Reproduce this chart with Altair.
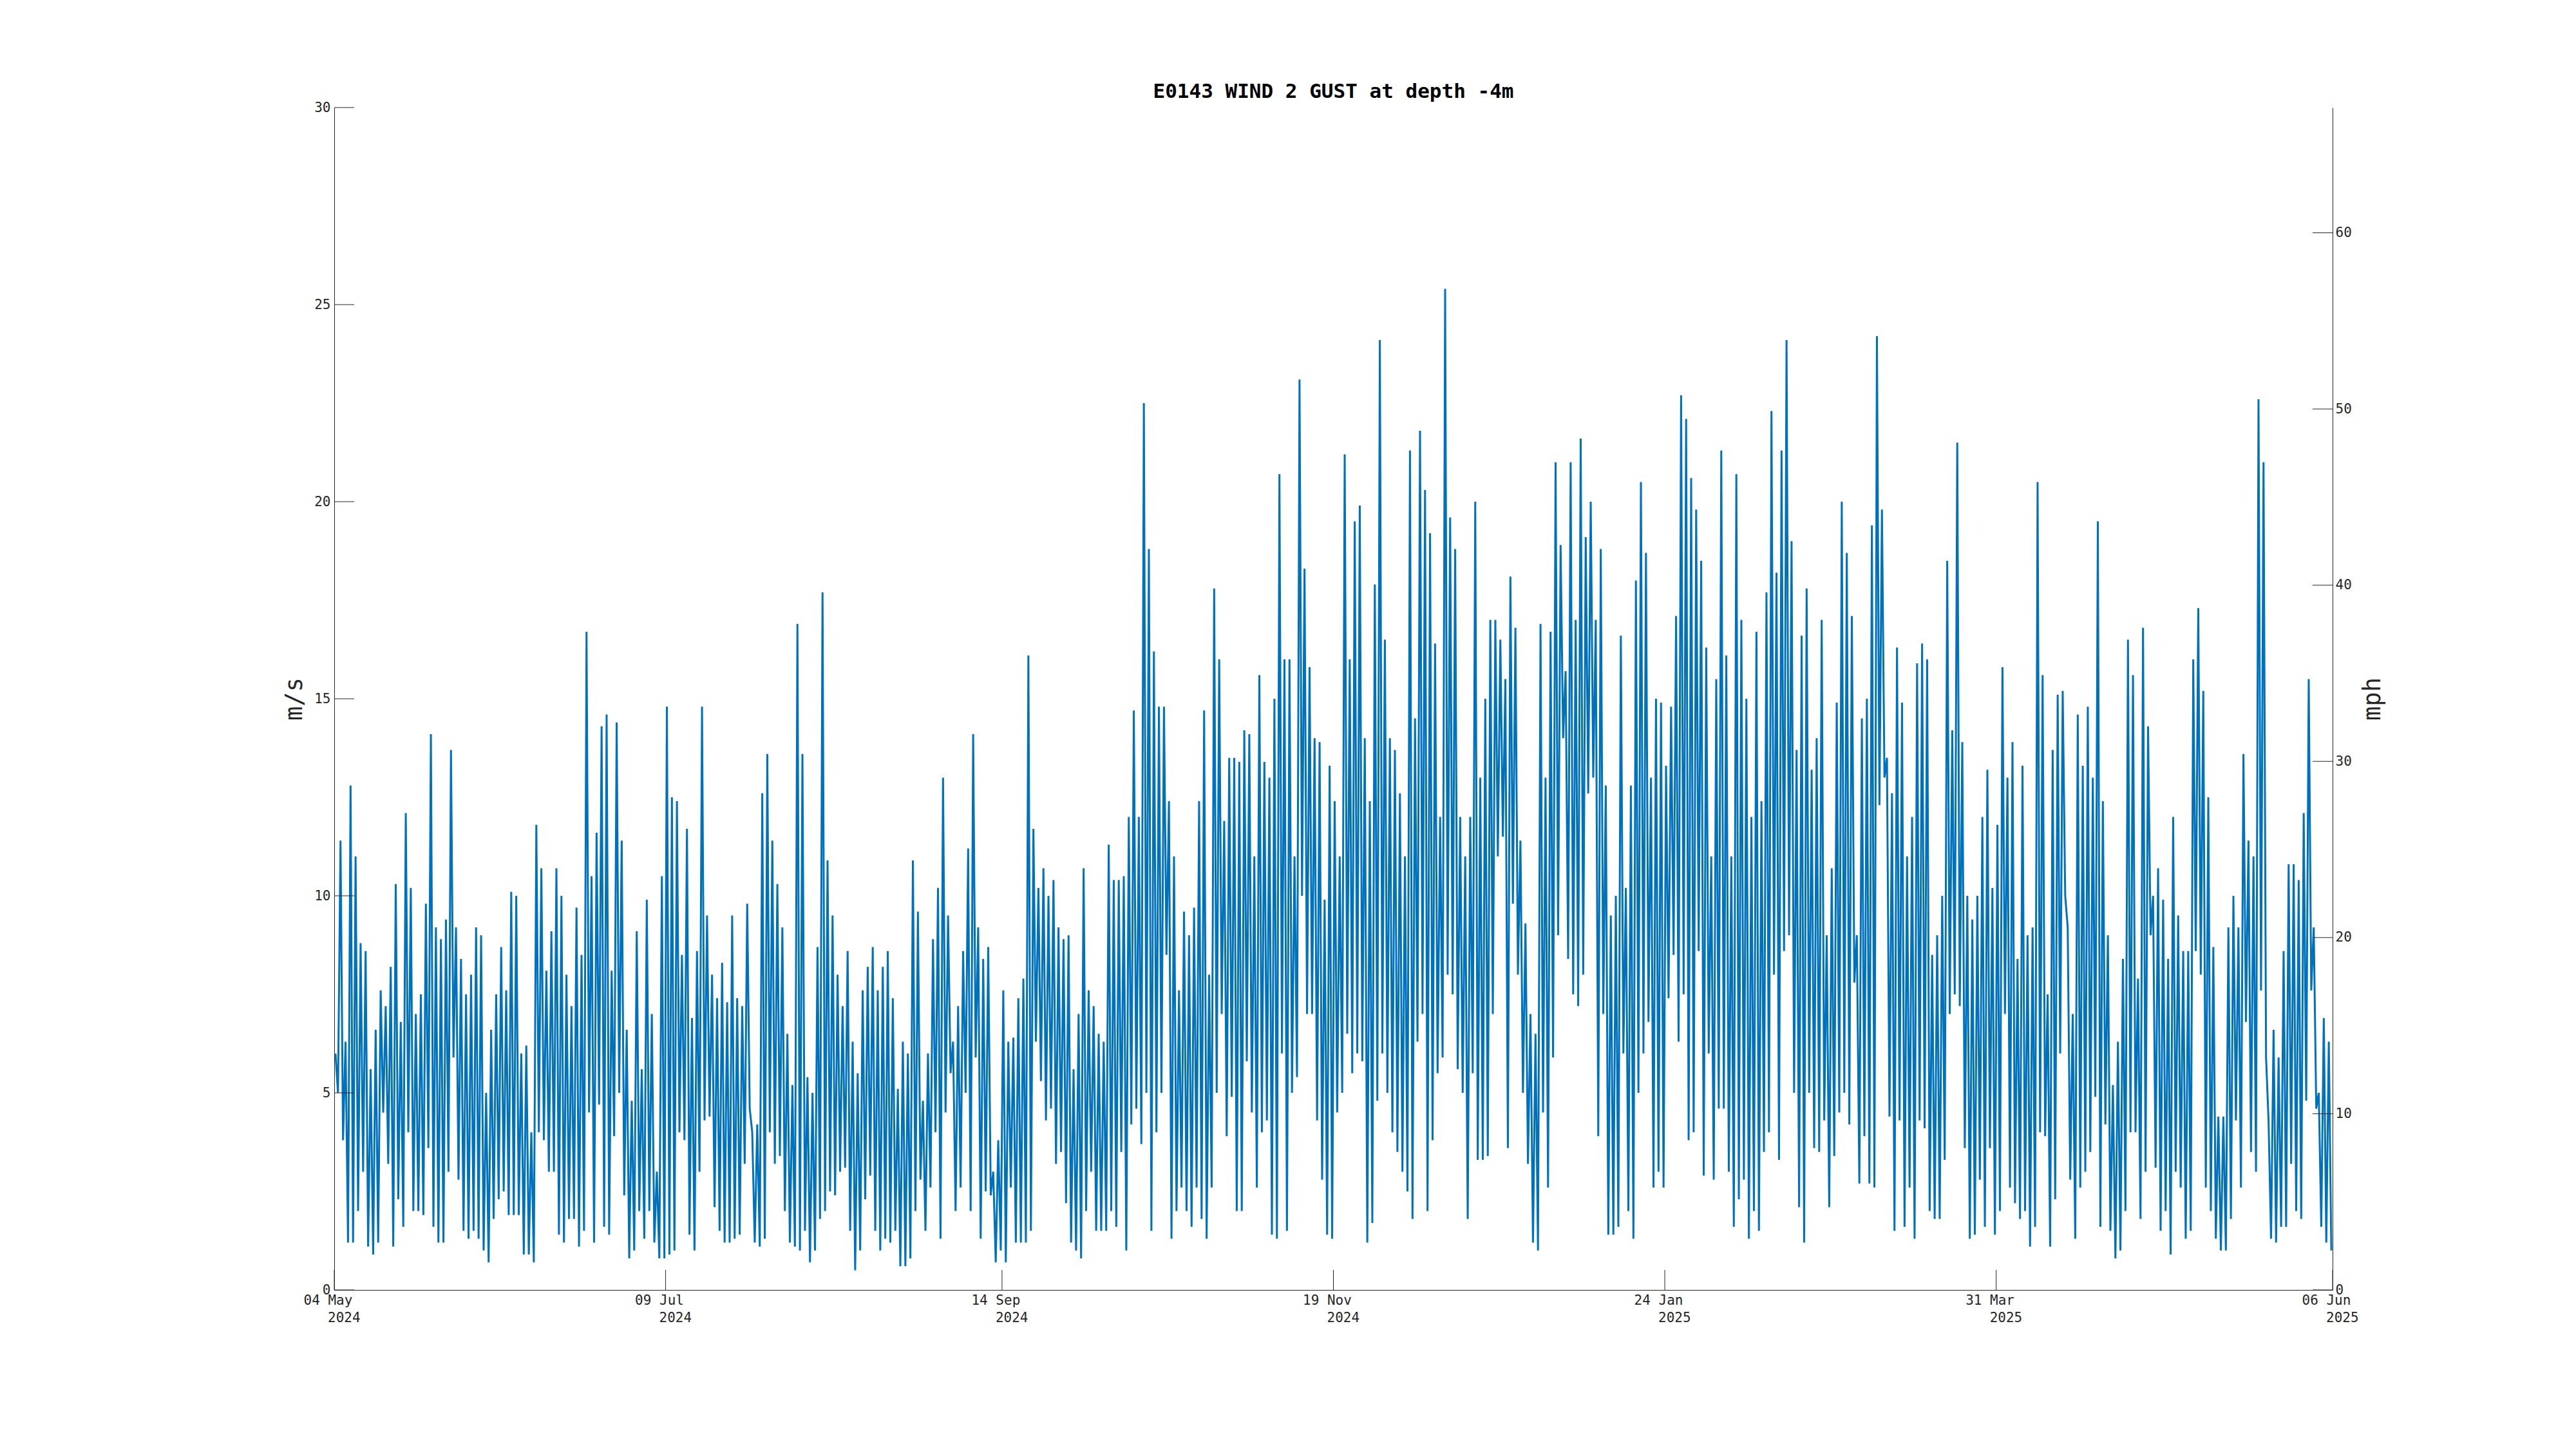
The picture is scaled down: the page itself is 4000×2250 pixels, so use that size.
import altair as alt
import pandas as pd

TITLE = "E0143 WIND 2 GUST at depth -4m"
START = "2024-05-04"

# Daily high / low gust values (m/s), period by period
high_may_jul = [6, 11.4, 6.3, 12.8, 11, 8.8, 8.6, 5.6, 6.6, 7.6, 7.2, 8.2, 10.3, 6.8, 12.1, 10.2, 7, 7.5, 9.8, 14.1,
                9.2, 8.9, 9.4, 13.7, 9.2, 8.4, 7.5, 8, 9.2, 9, 5, 6.6, 7.5, 8.7, 7.6, 10.1, 10, 6, 6.2, 4,
                11.8, 10.7, 8.1, 9.1, 10.7, 10, 8, 7.2, 9.7, 8.5, 16.7, 10.5, 11.6, 14.3, 14.6, 8.1, 14.4, 11.4, 6.6, 4.8,
                9.1, 5.6, 9.9, 7, 3, 10.5]
low_may_jul = [5, 3.8, 1.2, 1.2, 2, 3, 1.1, 0.9, 1.2, 4.5, 3.2, 1.1, 2.3, 1.6, 4, 2, 2, 1.9, 3.6, 1.6,
               1.2, 1.2, 3, 5.9, 2.8, 1.5, 1.3, 1.5, 1.3, 1, 0.7, 1.8, 2.3, 2.5, 1.9, 1.9, 1.9, 0.9, 0.9, 0.7,
               4, 3.8, 3, 3, 1.4, 1.2, 1.8, 1.8, 1.1, 1.5, 4.5, 1.2, 4.7, 1.6, 1.4, 3.9, 5, 2.4, 0.8, 1,
               2, 1.3, 2, 1.2, 0.8, 0.8]

high_jul_sep = [14.8, 12.5, 12.4, 8.5, 11.7, 6.9, 8.6, 14.8, 9.5, 8, 7.4, 8.3, 7.3, 9.5, 7.4, 7.2, 9.8, 4, 4.2, 12.6,
                13.6, 11.4, 10.3, 9.2, 6.5, 5.2, 16.9, 13.6, 5.4, 5, 8.7, 17.7, 10.9, 9.5, 8, 7.2, 8.6, 6.3, 5.5, 7.6,
                8.2, 8.7, 7.6, 8.2, 8.6, 7.4, 5.1, 6.3, 6, 10.9, 9.6, 4.8, 6, 8.9, 10.2, 13, 9.5, 6.3, 7.2, 8.6,
                11.2, 14.1, 9.2, 8.4, 8.7, 3]
low_jul_sep = [0.9, 1, 4, 3.8, 1.4, 1, 3, 4.3, 4.4, 2.1, 1.5, 1.2, 1.2, 1.3, 1.4, 3.2, 4.6, 1.2, 1.1, 1.3,
               4, 3.2, 3.4, 2, 1.2, 1.1, 1, 1.5, 0.7, 1, 1.8, 2, 2.5, 2.4, 3, 3.1, 1.5, 0.5, 1, 2.3,
               2.9, 1.5, 1, 1.3, 1.2, 1.5, 0.6, 0.6, 0.8, 2, 2.8, 1.5, 2.6, 4, 1.3, 4.5, 5.5, 2, 2.6, 5,
               2, 5.9, 1.3, 2.5, 2.4, 0.7]

high_sep_nov = [3.8, 7.6, 6.3, 6.4, 7.4, 7.9, 16.1, 11.7, 10.2, 10.7, 10, 10.4, 9.2, 8.9, 9, 5.6, 7, 10.7, 7.6, 7.2,
                6.5, 6.3, 11.3, 10.4, 10.4, 10.5, 12, 14.7, 12, 22.5, 18.8, 16.2, 14.8, 14.8, 12.4, 11, 7.6, 9.6, 9, 9.7,
                12.4, 14.7, 8, 17.8, 16, 11.9, 13.5, 13.5, 13.4, 14.2, 14.1, 11, 15.6, 13.4, 13, 15, 20.7, 16, 16, 11,
                23.1, 18.3, 15.8, 14, 13.9, 9.9]
low_sep_nov = [1, 0.7, 2.6, 1.2, 1.2, 1.2, 1.5, 6.3, 5.3, 4.3, 4.6, 3.2, 3.5, 2.2, 1.2, 1, 0.8, 2, 3, 1.5,
               1.5, 1.5, 2, 1.6, 3.5, 1, 4.2, 4.6, 3.7, 5, 1.5, 4, 5, 8.5, 1.3, 2, 2.6, 2, 1.6, 2.6,
               1.8, 1.3, 2.6, 5, 7, 3.9, 4.9, 2, 2, 5.8, 4.5, 2.6, 4, 4.3, 1.4, 1.3, 6, 1.5, 5, 5.4,
               10, 7, 7, 4.3, 2.8, 1.4]

high_nov_jan = [13.3, 12.4, 11, 21.2, 16, 19.5, 19.9, 14, 12.4, 17.9, 24.1, 16.5, 14, 13.7, 12.6, 11, 21.3, 14.5, 21.8, 20.3,
                19.2, 16.4, 12, 25.4, 19.6, 18.8, 12, 11, 12, 20, 13, 15, 17, 17, 16.5, 15.5, 18.1, 16.8, 11.4, 9.3,
                7, 6.5, 16.9, 13, 16.7, 21, 18.9, 15.7, 21, 17, 21.6, 19.1, 20, 17, 18.8, 12.8, 9.5, 10, 16.6, 10.2,
                12.8, 18, 20.5, 18.7, 13, 15]
low_nov_jan = [1.3, 4.5, 5, 6.5, 5.5, 6, 5.8, 1.2, 1.7, 4.8, 6, 5, 4, 3.5, 3, 2.5, 1.8, 6.3, 7, 2,
               3.8, 5.5, 5.9, 8, 7.5, 5.6, 5, 1.8, 5.5, 3.3, 3.3, 3.4, 7, 11, 11.5, 3.6, 9.8, 8, 5, 3.2,
               1.2, 1, 4.5, 2.6, 5.9, 9, 14, 8.4, 7.5, 7.2, 8, 12.6, 13, 3.9, 7, 1.4, 1.4, 1.6, 6, 2,
               1.3, 5, 6, 6.8, 2.6, 3]

high_jan_mar = [14.9, 13.3, 14.8, 17.1, 22.7, 22.1, 20.6, 19.8, 18.5, 16.3, 11, 15.5, 21.3, 16.1, 11, 20.7, 17, 15, 12, 16.7,
                12.4, 17.7, 22.3, 18.2, 21.3, 24.1, 19, 13.7, 16.6, 17.8, 13.2, 14, 17, 9, 10.7, 14.9, 20, 18.7, 17.1, 9,
                14.5, 15, 19.4, 24.2, 19.8, 13.5, 12.6, 16.3, 14.9, 11, 12, 15.9, 16.4, 16, 8.5, 9, 10, 18.5, 14.2, 21.5,
                13.9, 10, 9.4, 10, 12, 13.2]
low_jan_mar = [2.6, 7.4, 8.5, 6.3, 7.5, 3.8, 4, 8.6, 2.9, 6, 2.8, 4.6, 4.6, 3, 1.6, 2.3, 2.8, 1.3, 2, 1.5,
               3.5, 4, 8, 3.3, 8.6, 9, 5, 2.1, 1.2, 5, 3.6, 3.5, 4.3, 2.1, 3.4, 4.5, 5, 4.2, 7.8, 2.7,
               3.9, 2.7, 2.6, 12.3, 13, 4.4, 1.5, 4.3, 1.6, 2.6, 1.3, 4.3, 4.1, 2, 1.8, 1.8, 3.3, 7, 7.5, 7.2,
               3.6, 1.3, 1.4, 2.8, 1.6, 3.6]

high_mar_jun = [10.2, 11.8, 15.8, 13, 13.9, 8.4, 13.3, 9, 9.2, 20.5, 15.6, 7.5, 13.7, 15.1, 15.2, 9.2, 7, 14.6, 13.3, 14.8,
                13, 19.5, 12.4, 9, 5.2, 6.3, 8.4, 16.5, 15.6, 7.9, 16.8, 14.3, 10, 10.7, 9.9, 8.4, 12, 9.5, 8.6, 8.6,
                16, 17.3, 15.2, 12.5, 8.7, 4.4, 4.4, 9.2, 10, 9.2, 13.6, 11.4, 11, 22.6, 21, 4.3, 6.6, 5.9, 8.6, 10.8,
                10.8, 10.4, 12.1, 15.5, 9.2, 5, 6.9, 6.3]
low_mar_jun = [1.4, 2, 7, 2.6, 2.2, 1.8, 2, 1.1, 1.6, 4, 3.9, 1.1, 2.3, 6, 10, 2.8, 1.3, 2.6, 3, 3.5,
               4.9, 1.6, 4.2, 1.5, 0.8, 1, 2, 4, 4, 1.8, 3, 9, 3.1, 1.5, 2, 0.9, 3, 2.6, 1.3, 1.5,
               8.6, 8, 2.6, 2, 1.3, 1, 1, 1.8, 4.3, 2.6, 6.8, 3.5, 3, 7.6, 5.9, 1.3, 1.2, 1.6, 1.6, 3.2,
               2, 1.8, 4.8, 7.6, 4.6, 1.6, 1.2, 1]

ms_ticks = [0, 5, 10, 15, 20, 25, 30]
mph_ticks = [0, 10, 20, 30, 40, 50, 60]
date_ticks = ["2024-05-04", "2024-07-09", "2024-09-14", "2024-11-19", "2025-01-24", "2025-03-31", "2025-06-06"]
MS_TO_MPH = 2.236936

# ---- build the table ----
highs = high_may_jul + high_jul_sep + high_sep_nov + high_nov_jan + high_jan_mar + high_mar_jun
lows = low_may_jul + low_jul_sep + low_sep_nov + low_nov_jan + low_jan_mar + low_mar_jun
start = pd.Timestamp(START)
rows = []
for d, (h, l) in enumerate(zip(highs, lows)):
    rows.append({"t": (start + pd.Timedelta(hours=24 * d + 6)).strftime("%Y-%m-%dT%H:%M:%SZ"), "gust": h})
    rows.append({"t": (start + pd.Timedelta(hours=24 * d + 18)).strftime("%Y-%m-%dT%H:%M:%SZ"), "gust": l})
df = pd.DataFrame(rows)


def dt(s):
    y, m, d = (int(v) for v in s.split("-"))
    return alt.DateTime(year=y, month=m, date=d, utc=True)


W, H = 3103, 1836
TICK = 31
AX = "#262626"
FONT = "DejaVu Sans Mono"
x_domain = [dt(date_ticks[0]), dt(date_ticks[-1])]

x_axis = alt.Axis(
    values=[dt(s) for s in date_ticks],
    labelExpr="utcFormat(datum.value, '%d %b')",
    ticks=False, tickSize=0, grid=False, domain=True, domainColor=AX, domainWidth=1,
    labelFont=FONT, labelFontSize=21, labelColor=AX, labelAlign="left", labelOffset=-48,
    labelBaseline="top", labelPadding=5, labelOverlap=False, labelFlush=False,
    title=None,
)
x_enc = alt.X("t:T", scale=alt.Scale(type="utc", domain=x_domain), axis=x_axis)

line = alt.Chart(df).mark_line(color="#0072BD", strokeWidth=3, strokeJoin="miter", strokeMiterLimit=2).encode(
    x=x_enc,
    y=alt.Y("gust:Q", scale=alt.Scale(domain=[0, 30], nice=False, zero=False),
            axis=alt.Axis(values=ms_ticks, ticks=False, tickSize=0, grid=False, domainColor=AX, domainWidth=1,
                          labelFont=FONT, labelFontSize=21, labelColor=AX, labelPadding=6, labelOverlap=False,
                          title="m/s", titleFont=FONT, titleFontSize=37, titleFontWeight="normal", titleColor=AX,
                          titleAngle=270, titleX=-62, titleY=H / 2, titleAlign="center", titleBaseline="middle")),
)

left_ticks = alt.Chart(pd.DataFrame({"v": ms_ticks})).mark_rule(color=AX, strokeWidth=1).encode(
    y=alt.Y("v:Q", scale=alt.Scale(domain=[0, 30], nice=False, zero=False), axis=None),
    x=alt.value(0), x2=alt.value(TICK),
)

right_ticks = alt.Chart(pd.DataFrame({"mph": mph_ticks})).mark_rule(color=AX, strokeWidth=1).encode(
    y=alt.Y("mph:Q", scale=alt.Scale(domain=[0, 30 * MS_TO_MPH], nice=False, zero=False),
            axis=alt.Axis(orient="right", values=mph_ticks, ticks=False, tickSize=0, grid=False,
                          domainColor=AX, domainWidth=1, labelFont=FONT, labelFontSize=21, labelColor=AX,
                          labelPadding=4, labelOverlap=False,
                          title="mph", titleFont=FONT, titleFontSize=37, titleFontWeight="normal", titleColor=AX,
                          titleAngle=270, titleX=62, titleY=H / 2, titleAlign="center", titleBaseline="middle")),
    x=alt.value(W - TICK), x2=alt.value(W),
)

tick_df = pd.DataFrame({
    "t": [s + "T00:00:00Z" for s in date_ticks],
    "year": [s[:4] for s in date_ticks],
})

bottom_ticks = alt.Chart(tick_df).mark_rule(color=AX, strokeWidth=1).encode(
    x=x_enc, y=alt.value(H), y2=alt.value(H - TICK),
)

year_labels = alt.Chart(tick_df).mark_text(
    font=FONT, fontSize=21, color=AX, align="left", baseline="top", dx=-10,
).encode(
    x=x_enc, y=alt.value(H + 33), text="year:N",
)

chart = alt.layer(line, left_ticks, right_ticks, bottom_ticks, year_labels).resolve_scale(
    y="independent").properties(
    width=W, height=H,
    title=alt.TitleParams(TITLE, font=FONT, fontSize=31, fontWeight="bold", color="black",
                          anchor="middle", baseline="alphabetic", offset=-27),
    autosize=alt.AutoSizeParams(type="none"),
    padding={"left": 511, "top": 159, "right": 370, "bottom": 240},
    background="white",
).configure_view(stroke=None)

chart.save("out.html", embed_options={"renderer": "svg", "actions": False})
